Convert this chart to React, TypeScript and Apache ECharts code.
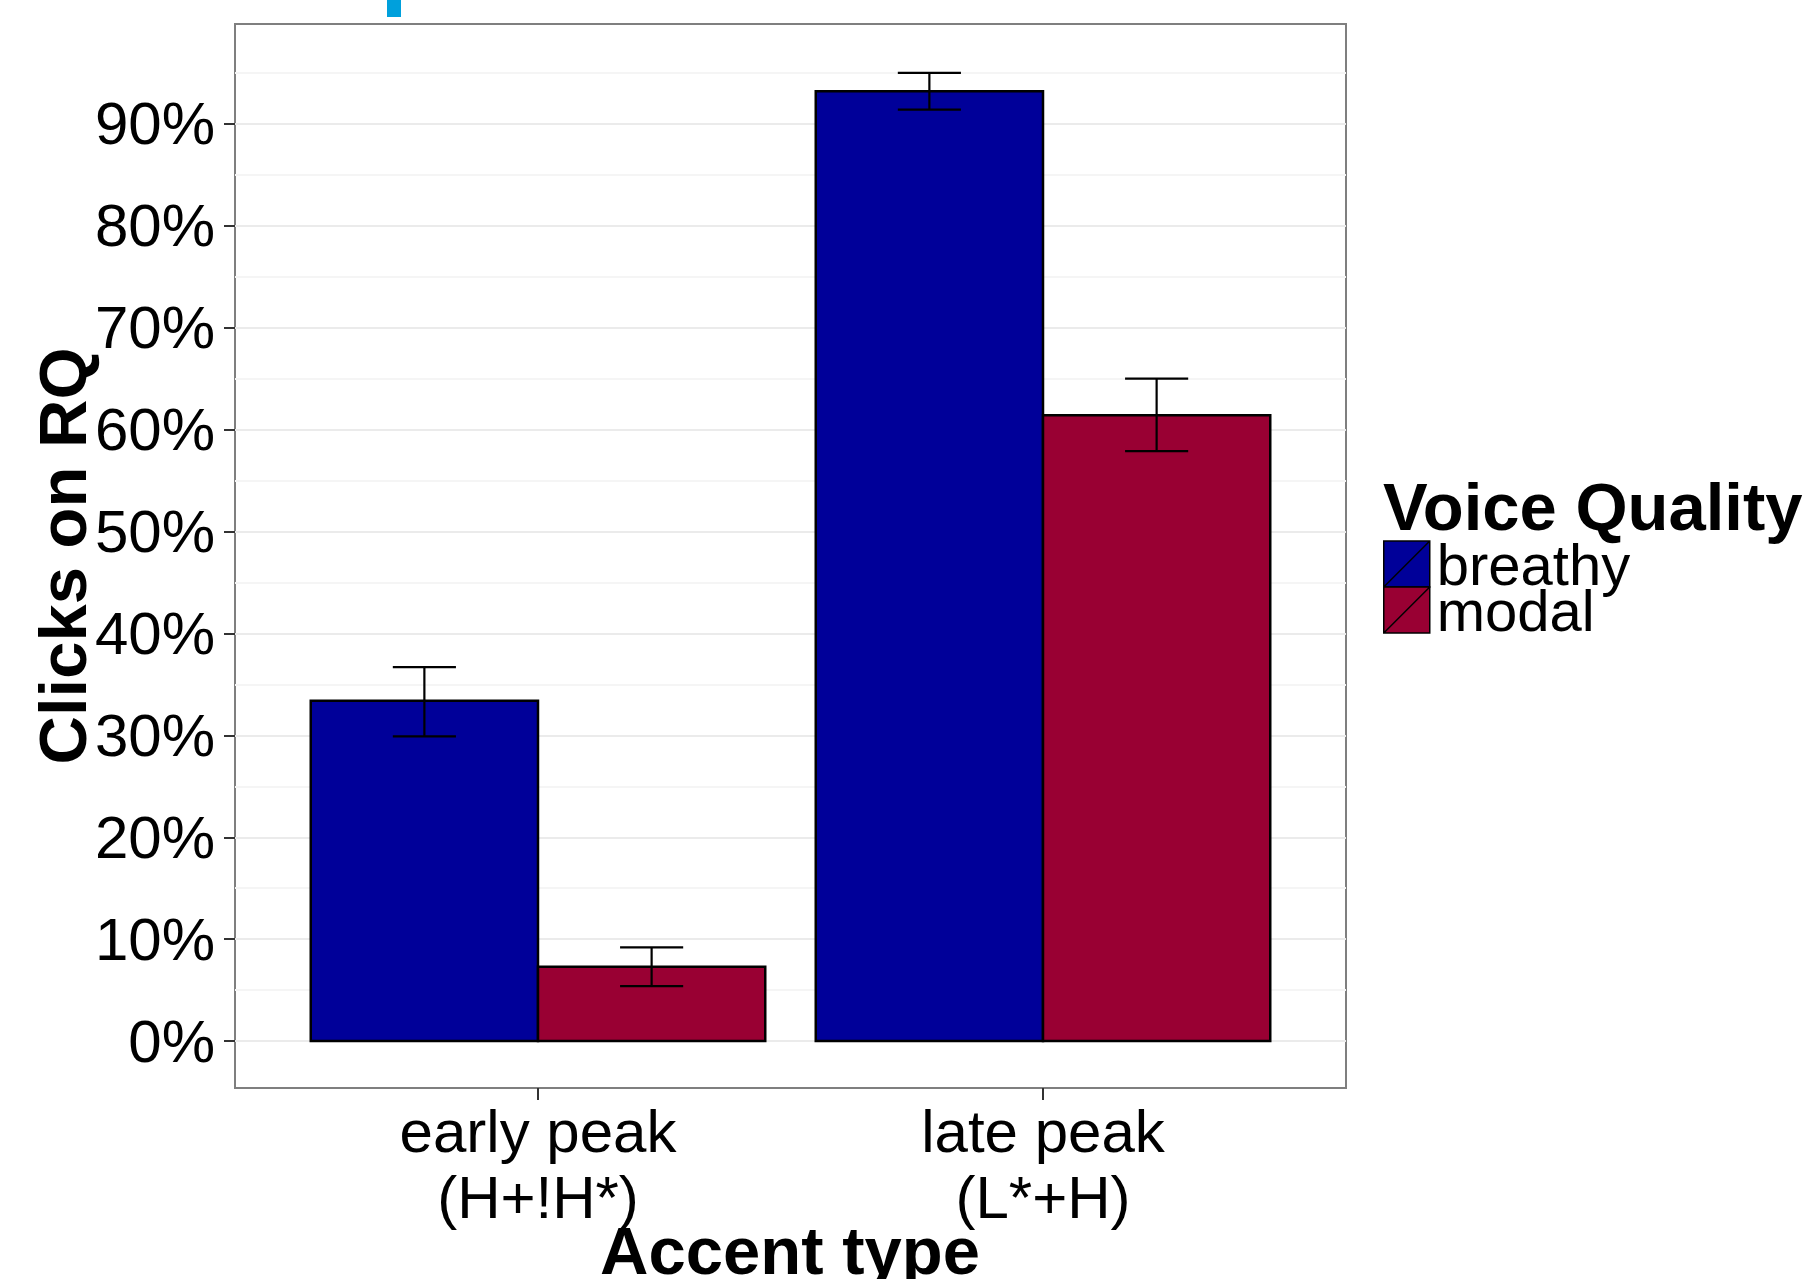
import React, { useEffect, useRef } from "react";
import * as echarts from "echarts";

const categories = ["early peak\n(H+!H*)", "late peak\n(L*+H)"];
const categoryPositions = [1, 2];
const seriesNames = ["breathy", "modal"];
const breathyValues = [33.4, 93.2];
const breathyLow = [29.9, 91.4];
const breathyHigh = [36.7, 95.0];
const modalValues = [7.3, 61.4];
const modalLow = [5.4, 57.9];
const modalHigh = [9.2, 65.0];
const yTicks = [0, 10, 20, 30, 40, 50, 60, 70, 80, 90];
const yMinorTicks = [5, 15, 25, 35, 45, 55, 65, 75, 85, 95];

const FONT = "'Liberation Sans', Arial, Helvetica, sans-serif";
const COLORS = ["#000099", "#990033"];
const HALF = 0.225;
const CAP = 0.125;

function makeSeries(name: string, values: number[], lows: number[], highs: number[], color: string, offset: number) {
  const data = categoryPositions.map((p, i) => [p, values[i], lows[i], highs[i]]);
  return {
    type: "custom",
    name,
    data,
    encode: { x: 0, y: 1 },
    itemStyle: { color },
    renderItem: (params: any, api: any) => {
      const x = api.value(0) as number;
      const v = api.value(1) as number;
      const lo = api.value(2) as number;
      const hi = api.value(3) as number;
      const c = x + offset;
      const tl = api.coord([c - HALF, v]);
      const br = api.coord([c + HALF, 0]);
      const top = api.coord([c, hi]);
      const bot = api.coord([c, lo]);
      const capL = api.coord([c - CAP / 2, hi]);
      const capR = api.coord([c + CAP / 2, hi]);
      const capL2 = api.coord([c - CAP / 2, lo]);
      const capR2 = api.coord([c + CAP / 2, lo]);
      const lineStyle = { stroke: "#000", lineWidth: 2.2 };
      return {
        type: "group",
        children: [
          {
            type: "rect",
            shape: { x: tl[0], y: tl[1], width: br[0] - tl[0], height: br[1] - tl[1] },
            style: { fill: color, stroke: "#000", lineWidth: 2.5 },
          },
          { type: "line", shape: { x1: top[0], y1: top[1], x2: bot[0], y2: bot[1] }, style: lineStyle },
          { type: "line", shape: { x1: capL[0], y1: capL[1], x2: capR[0], y2: capR[1] }, style: lineStyle },
          { type: "line", shape: { x1: capL2[0], y1: capL2[1], x2: capR2[0], y2: capR2[1] }, style: lineStyle },
        ],
      };
    },
  };
}

export default function App() {
  const ref = useRef<HTMLDivElement>(null);
  useEffect(() => {
    if (!ref.current) return;
    const chart = echarts.init(ref.current, null, { renderer: "svg" });
    const legendIcon = "path://M0,0H10V10H0Z M0,10L10,0";
    chart.setOption({
      animation: false,
      backgroundColor: "#ffffff",
      grid: {
        left: 235,
        top: 24,
        width: 1111,
        height: 1064,
        show: true,
        borderColor: "#7f7f7f",
        borderWidth: 2,
        backgroundColor: "transparent",
      },
      xAxis: {
        type: "value",
        min: 0.4,
        max: 2.6,
        position: "bottom",
        axisLine: { show: false, onZero: false },
        splitLine: { show: false },
        axisTick: {
          show: true,
          customValues: categoryPositions,
          length: 12,
          lineStyle: { color: "#333", width: 2 },
        },
        axisLabel: {
          customValues: categoryPositions,
          formatter: (v: number) => categories[Math.round(v) - 1] ?? "",
          fontSize: 60,
          lineHeight: 66,
          color: "#000",
          fontFamily: FONT,
          margin: 10,
        },
      },
      yAxis: [
        {
          type: "value",
          min: -4.6,
          max: 99.8,
          axisLine: { show: false, onZero: false },
          axisTick: {
            show: true,
            customValues: yTicks,
            length: 11,
            lineStyle: { color: "#333", width: 2 },
          },
          axisLabel: {
            customValues: yTicks,
            formatter: (v: number) => `${v}%`,
            fontSize: 60,
            color: "#000",
            fontFamily: FONT,
            margin: 20,
          },
          splitLine: { show: true, lineStyle: { color: "#ebebeb", width: 2 } },
          z: 1,
        },
        {
          type: "value",
          min: -4.6,
          max: 99.8,
          position: "left",
          axisLine: { show: false, onZero: false },
          axisTick: { show: false, customValues: yMinorTicks },
          axisLabel: { show: false, customValues: yMinorTicks },
          splitLine: { show: true, lineStyle: { color: "#f5f5f5", width: 2 } },
          z: 0,
        },
      ],
      legend: {
        left: 1383,
        top: 535,
        padding: 0,
        orient: "vertical",
        itemWidth: 46,
        itemHeight: 46,
        itemGap: -12,
        selectedMode: false,
        data: seriesNames.map((n) => ({ name: n, icon: legendIcon })),
        itemStyle: { borderColor: "#000", borderWidth: 1.5 },
        textStyle: { fontSize: 58, lineHeight: 46, fontFamily: FONT, color: "#000", padding: [0, 0, 0, 2] },
      },
      graphic: [
        {
          type: "rect",
          shape: { x: 387, y: 0, width: 14, height: 17 },
          style: { fill: "#00a0dc" },
        },
        {
          type: "text",
          x: 62,
          y: 556,
          rotation: Math.PI / 2,
          style: {
            text: "Clicks on RQ",
            font: `bold 67px ${FONT}`,
            fill: "#000",
            align: "center",
            verticalAlign: "middle",
          },
        },
        {
          type: "text",
          x: 790,
          y: 1250,
          style: {
            text: "Accent type",
            font: `bold 67px ${FONT}`,
            fill: "#000",
            align: "center",
            verticalAlign: "middle",
          },
        },
        {
          type: "text",
          x: 1383,
          y: 506,
          style: {
            text: "Voice Quality",
            font: `bold 67px ${FONT}`,
            fill: "#000",
            align: "left",
            verticalAlign: "middle",
          },
        },
      ],
      series: [
        makeSeries(seriesNames[0], breathyValues, breathyLow, breathyHigh, COLORS[0], -HALF),
        makeSeries(seriesNames[1], modalValues, modalLow, modalHigh, COLORS[1], HALF),
      ],
    });
    return () => chart.dispose();
  }, []);
  return (
    <div
      ref={ref}
      style={{ position: "absolute", left: 0, top: 0, width: 1814, height: 1279, background: "#fff" }}
    />
  );
}
